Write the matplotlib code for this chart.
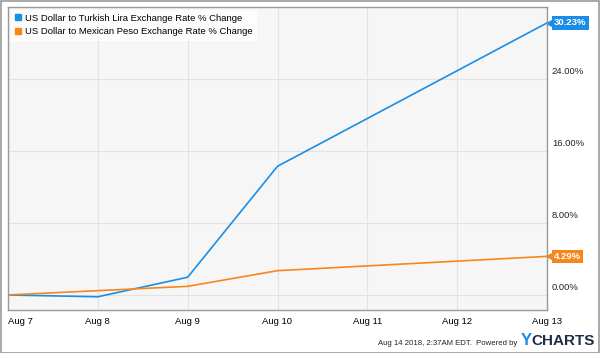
import matplotlib
matplotlib.use('Agg')
import matplotlib.pyplot as plt
import numpy as np
import pandas as pd
from matplotlib.patches import Rectangle

plt.rcParams['font.family'] = ['Liberation Sans', 'DejaVu Sans']

dates = pd.to_datetime(['2018-08-07', '2018-08-08', '2018-08-09',
                        '2018-08-10', '2018-08-13'])
lira_change = [0.0, -0.2, 1.97, 14.3, 30.23]
peso_change = [0.0, 0.48, 0.96, 2.7, 4.29]
lira_name = 'US Dollar to Turkish Lira Exchange Rate % Change'
peso_name = 'US Dollar to Mexican Peso Exchange Rate % Change'
tick_dates = pd.date_range('2018-08-07', '2018-08-13', freq='D')
tick_labels = ['Aug 7', 'Aug 8', 'Aug 9', 'Aug 10', 'Aug 11', 'Aug 12', 'Aug 13']
y_ticks = [0, 8, 16, 24]

blue = '#1a8ee6'
orange = '#f7861c'

fig = plt.figure(figsize=(6, 3.53), dpi=100)
fig.patches.append(Rectangle((0.001, 0.001), 0.997, 0.996, transform=fig.transFigure,
                             fill=False, edgecolor='#999999', linewidth=1.2))
axis = fig.add_axes([8 / 600, 1 - 310 / 353, 539 / 600, 303 / 353])
axis.set_facecolor('#f6f6f6')

axis.plot(dates, lira_change, color=blue, linewidth=1.2, label=lira_name)
axis.plot(dates, peso_change, color=orange, linewidth=1.2, label=peso_name)

axis.set_xlim(tick_dates[0], tick_dates[-1])
axis.set_ylim(-1.67, 32)
axis.set_xticks(tick_dates)
axis.set_xticklabels(tick_labels, fontsize=6.8)
xlabels = axis.get_xticklabels()
xlabels[0].set_horizontalalignment('left')
axis.tick_params(axis='x', length=0, pad=5)
axis.set_yticks(y_ticks)
axis.yaxis.tick_right()
axis.set_yticklabels([])
axis.tick_params(axis='y', length=0)
axis.grid(True, color='#e3e3e3', linewidth=0.8)
for value in y_ticks:
    axis.annotate('{:.2f}%'.format(value), xy=(1, value), xycoords=('axes fraction', 'data'),
                  xytext=(3.5, 2), textcoords='offset points', fontsize=6.8,
                  va='bottom', ha='left', color='#222222')
for side in axis.spines.values():
    side.set_color('#999999')
    side.set_linewidth(1.0)

# end value flags
for series, color in [(lira_change, blue), (peso_change, orange)]:
    last = series[-1]
    axis.annotate('{:.2f}%'.format(last), xy=(1, last), xycoords=('axes fraction', 'data'),
                  xytext=(5, 0), textcoords='offset points', fontsize=6.8,
                  fontweight='bold', color='white', va='center', ha='left',
                  bbox=dict(boxstyle='square,pad=0.25', facecolor=color, edgecolor='none'))
    axis.plot([1.0 + 3 / 539], [last], marker='<', markersize=6, color=color,
              transform=axis.get_yaxis_transform(), clip_on=False)

legend = axis.legend(loc='upper left', fontsize=6.8, frameon=True, fancybox=False,
                     handlelength=0.7, handleheight=0.7, handletextpad=0.4,
                     borderaxespad=0.3, labelspacing=0.45, borderpad=0.4)
legend.get_frame().set_facecolor('white')
legend.get_frame().set_edgecolor('white')
legend.get_frame().set_alpha(0.8)
for handle in legend.legend_handles:
    handle.set_linewidth(0)
    handle.set_marker('s')
    handle.set_markersize(5)

fig.text(0.862, 0.022, 'Aug 14 2018, 2:37AM EDT.  Powered by', fontsize=5.6,
         ha='right', va='baseline', color='#222222')
fig.text(0.868, 0.022, 'Y', fontsize=12, fontweight='bold', color=blue, va='baseline')
fig.text(0.886, 0.022, 'CHARTS', fontsize=11, fontweight='bold', color='#1e2d48',
         va='baseline')

fig.savefig('out.png', dpi=100)
